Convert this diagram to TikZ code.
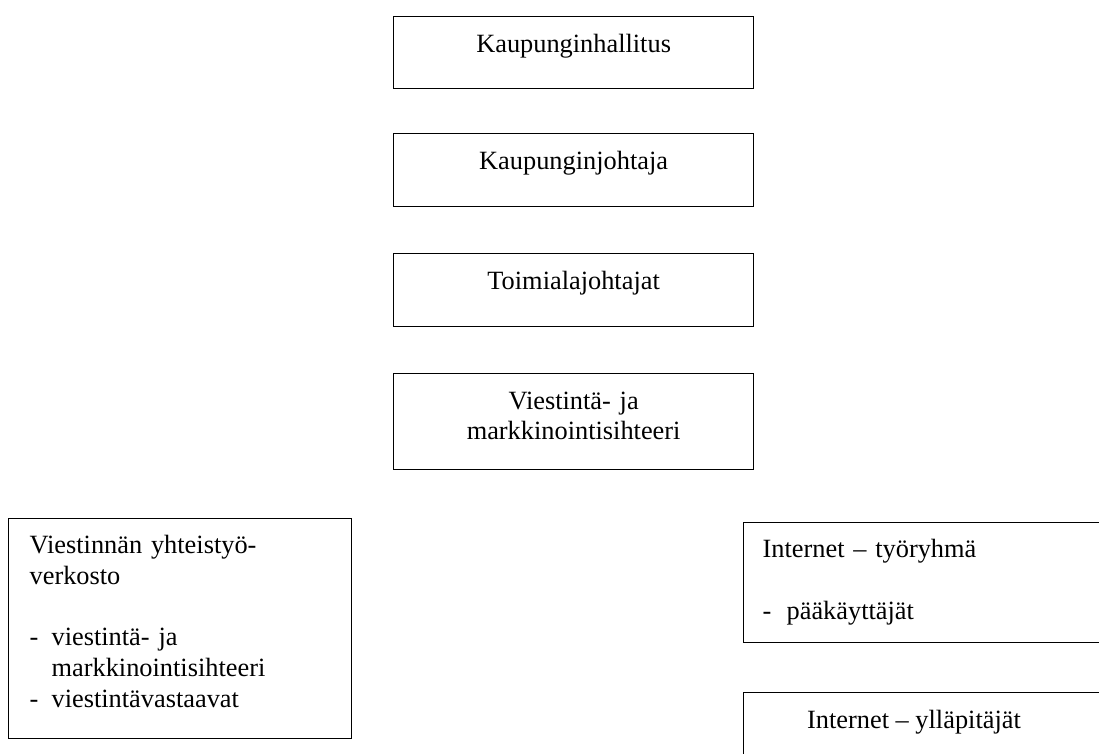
\documentclass[tikz,border=0pt]{standalone}
\usepackage{fontspec}
\setmainfont{Liberation Serif}
\usetikzlibrary{positioning}
\tikzset{
  orgbox/.style={draw, line width=0.75pt, anchor=north west, inner ysep=0pt, inner xsep=0.4cm,
    font=\fontsize{15}{17.5}\selectfont, text height=0.71cm},
  midbox/.style={orgbox, align=center, text width=6.4cm},
}
\newcommand{\viiva}[1]{\makebox[#1][l]{-}}
\begin{document}
\begin{tikzpicture}[x=0.02cm,y=-0.02cm]
  \useasboundingbox (0,0) rectangle (1099,754);
  \clip (0,0) rectangle (1099,754);
  \node[midbox, text depth=0.73cm] (hallitus) at (393,16) {Kaupunginhallitus};
  \node[midbox, text depth=0.75cm] (johtaja) at (393,133) {Kaupunginjohtaja};
  \node[midbox, text depth=0.75cm] (toimiala) at (393,253) {Toimialajohtajat};
  \node[midbox, text depth=1.21cm] (sihteeri) at (393,373) {Viestintä- ja\\markkinointisihteeri};
  \node[orgbox, align=left, inner xsep=0.42cm, text width=6.02cm, text height=0.7cm, text depth=3.7cm] (verkosto) at (8,518)
    {Viestinnän yhteistyö-\\verkosto\\[17.5pt]\viiva{0.44cm}viestintä- ja\\\hspace*{0.44cm}markkinointisihteeri\\\viiva{0.44cm}viestintävastaavat};
  \node[orgbox, align=left, inner xsep=0.38cm, text width=7.04cm, text height=0.7cm, text depth=1.7cm] (tyoryhma) at (743,522)
    {Internet – työryhmä\\[17.5pt]\viiva{0.48cm}pääkäyttäjät};
  \node[orgbox, minimum width=7.8cm, minimum height=2cm] (yllapito) at (743,692) {};
  \node[anchor=base, font=\fontsize{15}{17.5}\selectfont] (yllapitajat) at ([shift={(171,36)}]yllapito.north west) {Internet – ylläpitäjät};
\end{tikzpicture}
\end{document}
